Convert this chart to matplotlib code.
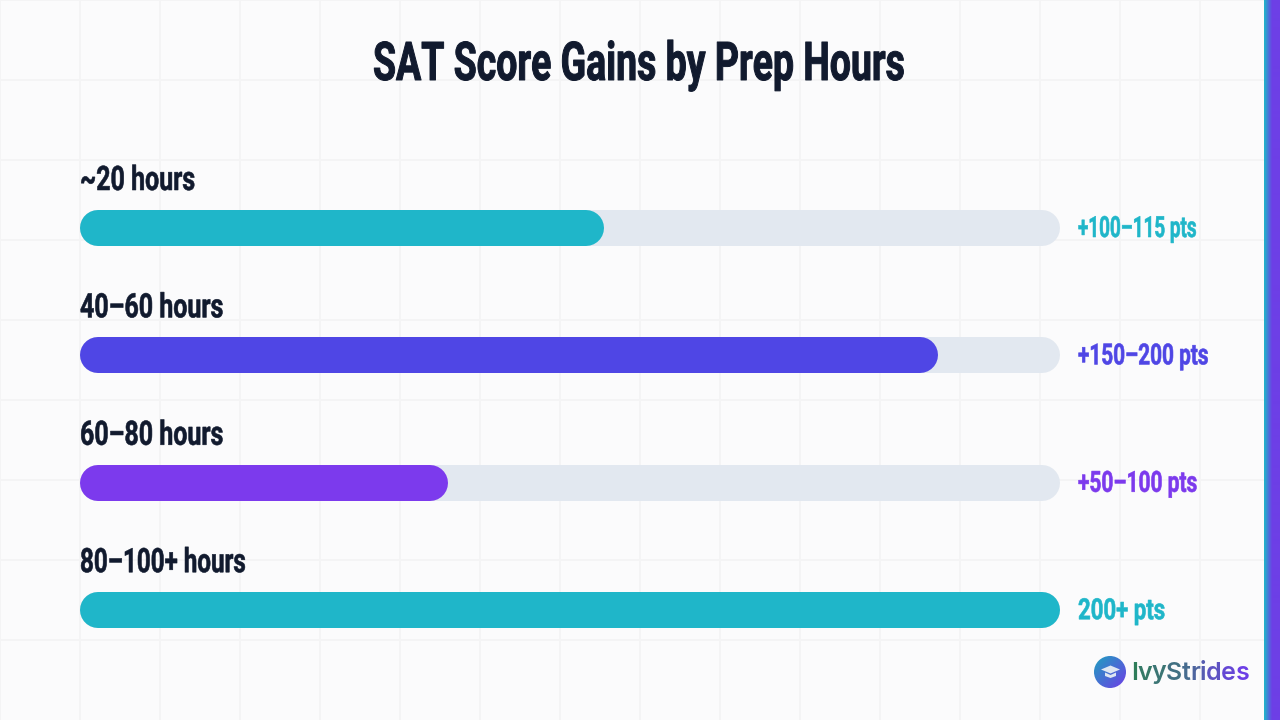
import numpy as np
import matplotlib
matplotlib.use('Agg')
import matplotlib.pyplot as plt
from matplotlib.colors import LinearSegmentedColormap
from matplotlib.patches import Circle, Polygon
from matplotlib.patheffects import AbstractPathEffect
from matplotlib.text import Text
from matplotlib.transforms import Affine2D, Bbox

hours = ['~20 hours', '40–60 hours', '60–80 hours', '80–100+ hours']
fill_pct = [53.5, 87.5, 37.5, 100]
gains = ['+100–115 pts', '+150–200 pts', '+50–100 pts', '200+ pts']
colors = ['#1fb6c9', '#4f46e5', '#7c3aed', '#1fb6c9']
title = 'SAT Score Gains by Prep Hours'
brand = 'IvyStrides'

W, H = 1280, 720
DARK = '#111a2e'
PX = 0.72  # points per pixel at dpi 100


class Squeeze(AbstractPathEffect):
    # the reference font is very condensed, none is installed, so narrow the glyphs
    def __init__(self, sx, stroke):
        super().__init__()
        self.sx = sx
        self.stroke = stroke

    def draw_path(self, renderer, gc, tpath, affine, rgbFace=None):
        m = affine.get_matrix().copy()
        m[0, 0] *= self.sx
        gc0 = renderer.new_gc()
        gc0.copy_properties(gc)
        gc0.set_linewidth(self.stroke)
        gc0.set_foreground(rgbFace)
        renderer.draw_path(gc0, tpath, Affine2D(m), rgbFace)
        gc0.restore()


class NarrowText(Text):
    def __init__(self, x, y, s, sx, stroke=0.4, **kw):
        super().__init__(x, y, s, ha='left', va='baseline', family='Roboto', fontweight='bold', **kw)
        self.sx = sx
        self.set_path_effects([Squeeze(sx, stroke)])

    def get_window_extent(self, renderer=None, dpi=None):
        bb = super().get_window_extent(renderer, dpi)
        return Bbox.from_extents(bb.x0, bb.y0, bb.x0 + bb.width * self.sx, bb.y1)


def add_narrow(axes, x, y, s, sx, **kw):
    t = NarrowText(x, y, s, sx, **kw)
    axes.add_artist(t)
    t.set_clip_on(False)
    return t


fig = plt.figure(figsize=(W / 100, H / 100), dpi=100, facecolor='#fbfbfc')

# page layer in pixels, for the grid and the decorations
bg = fig.add_axes([0, 0, 1, 1])
bg.axis('off')
for x in range(0, W, 80):
    bg.axvline(x, color='#f4f4f5', lw=1.4, zorder=0)
for y in range(0, H, 80):
    bg.axhline(y, color='#f4f4f5', lw=1.4, zorder=0)

strip = LinearSegmentedColormap.from_list('strip', ['#1fb6c9', '#6d3fe6', '#6d3fe6'])
bg.imshow(np.linspace(0, 1, 32).reshape(1, -1), cmap=strip, extent=(1264, 1280, H, 0), aspect='auto', zorder=1)

add_narrow(bg, 373, 80, title, 0.70, stroke=0.7, fontsize=38.5, color=DARK)

# bars: x is percent of the track, y is the row index
ax = fig.add_axes([80 / W, 0, 980 / W, 1])
ax.patch.set_alpha(0)
ax.axis('off')
ax.set_xlim(0, 100)
row_h = 127.4
ax.set_ylim((H - 228) / row_h, -228 / row_h)
r = 18 / 9.8  # cap radius in x units

# glyph narrowing per text, the reference font has a thin "1"
hours_sx = [0.74, 0.74, 0.74, 0.716]
gains_sx = [0.647, 0.712, 0.716, 0.76]

for i in range(len(hours)):
    ax.plot([r, 100 - r], [i, i], color='#e2e8f0', lw=36 * PX, solid_capstyle='round')
    ax.plot([r, fill_pct[i] - r], [i, i], color=colors[i], lw=36 * PX, solid_capstyle='round')
    add_narrow(ax, 0, i - 38 / row_h, hours[i], hours_sx[i], fontsize=24.3, color=DARK)
    add_narrow(ax, 100 + 18 / 9.8, i + 9 / row_h, gains[i], gains_sx[i], fontsize=21, color=colors[i])

# logo
logo = LinearSegmentedColormap.from_list('logo', ['#1fa0c0', '#6d3fe6'])
im = bg.imshow(np.add.outer(np.linspace(0, 1, 64), np.linspace(0, 1, 64)) / 2, cmap=logo,
               extent=(1094, 1126, 688, 656), aspect='auto', zorder=2)
im.set_clip_path(Circle((1110, 672), 16, transform=bg.transData))
bg.set_xlim(0, W)
bg.set_ylim(H, 0)
cap = '#dfe7f2'
bg.add_patch(Polygon([(1101, 669.5), (1110.5, 665.5), (1120, 669.5), (1110.5, 673.5)], fc=cap, ec='none', zorder=3))
bg.add_patch(Polygon([(1105, 672.5), (1110.5, 675), (1116, 672.5), (1116, 676), (1110.5, 678), (1105, 676)], fc=cap, ec='none', zorder=3))

brand_cmap = LinearSegmentedColormap.from_list('brand', ['#2f7d5a', '#4a6a96', '#6d3fe6'])
renderer = fig.canvas.get_renderer()
x = 1131.0
for i, ch in enumerate(brand):
    bg.text(x, 679.5, ch, ha='left', va='baseline', fontsize=18, fontweight='semibold',
            family='Inter', color=brand_cmap(i / (len(brand) - 1)), zorder=3)
    prefix = bg.text(0, 0, brand[:i + 1], fontsize=18, fontweight='semibold', family='Inter', alpha=0)
    x = 1131.0 + prefix.get_window_extent(renderer).width * 0.967
    prefix.remove()

fig.savefig('out.png', dpi=100, facecolor=fig.get_facecolor())
